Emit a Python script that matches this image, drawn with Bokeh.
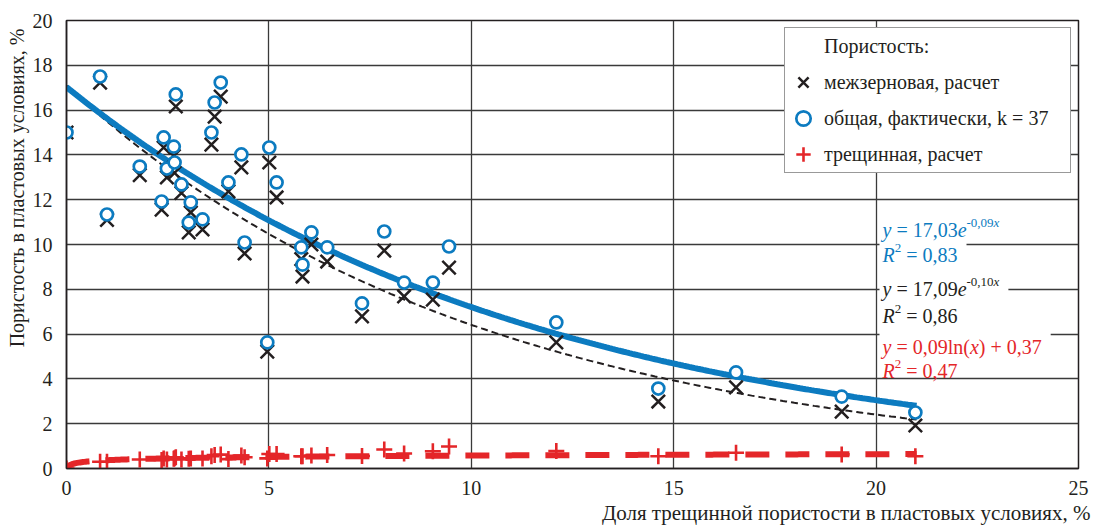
import numpy as np
from bokeh.plotting import figure
from bokeh.models import Range1d, Label, BoxAnnotation, Legend, LegendItem, Title
from bokeh.embed import file_html
from bokeh.resources import INLINE

# ---------------- data ----------------
x_share = [0.0, 0.83, 1.0, 1.81, 2.35, 2.40, 2.48, 2.65, 2.70, 2.67, 2.84, 3.07, 3.02, 3.36,
           3.58, 3.66, 3.81, 4.00, 4.32, 4.40, 4.96, 5.01, 5.19, 5.80, 5.83, 6.05, 6.44,
           7.30, 7.85, 8.34, 9.05, 9.45, 12.10, 14.62, 16.54, 19.15, 20.97]
total_por = [15.0, 17.5, 11.34, 13.48, 11.92, 14.78, 13.39, 14.37, 16.7, 13.66, 12.68, 11.88,
             10.98, 11.12, 15.0, 16.34, 17.23, 12.77, 14.02, 10.09, 5.63, 14.33, 12.77, 9.87,
             9.1, 10.54, 9.87, 7.37, 10.58, 8.3, 8.3, 9.91, 6.52, 3.57, 4.29, 3.21, 2.5]
inter_por = [15.0, 17.23, 11.1, 13.1, 11.56, 14.33, 13.0, 13.95, 16.16, 13.2, 12.3, 11.43,
             10.54, 10.67, 14.46, 15.71, 16.6, 12.37, 13.44, 9.6, 5.22, 13.66, 12.1, 9.35,
             8.57, 10.0, 9.24, 6.79, 9.73, 7.68, 7.54, 8.97, 5.63, 2.99, 3.62, 2.54, 1.92]
frac_por = [0.0, 0.3, 0.3, 0.4, 0.38, 0.45, 0.4, 0.43, 0.5, 0.46, 0.4, 0.45, 0.44, 0.45,
            0.55, 0.6, 0.62, 0.42, 0.58, 0.5, 0.45, 0.65, 0.65, 0.55, 0.55, 0.58, 0.6,
            0.56, 0.85, 0.67, 0.77, 0.98, 0.78, 0.55, 0.7, 0.63, 0.55]

x_ticks = [0, 5, 10, 15, 20, 25]
y_ticks = [0, 2, 4, 6, 8, 10, 12, 14, 16, 18, 20]

# trend coefficients (as shown on chart)
blue_a, blue_b = 17.03, -0.086
black_a, black_b = 17.09, -0.098
red_a, red_b = 0.09, 0.37
fit_x_max = 21.0

legend_title = "Пористость:"
lab_inter = "межзерновая, расчет"
lab_total = "общая, фактически, k = 37"
lab_frac = "трещинная, расчет"
x_title = "Доля трещинной пористости в пластовых условиях, %"
y_title = "Пористость в пластовых условиях, %"

# ---------------- style ----------------
FONT = "'Liberation Serif', serif"
TXT = "#231f20"
BLUE = "#0c7bc0"
RED = "#e42629"
BLACK = "#231f20"

W, H = 1096, 527
FL, FR, FT, FB = 66, 1078, 20, 468   # frame edges in page px
XS = (FR - FL) / 25.0
YS = (FB - FT) / 20.0

def px_x(px):
    return (px - FL) / XS

def px_y(py):
    return (FB - py) / YS

p = figure(width=W, height=H, output_backend="svg", toolbar_location=None,
           x_range=Range1d(0, 25), y_range=Range1d(0, 20),
           min_border_left=FL, min_border_right=W - FR, min_border_top=FT,
           min_border_bottom=H - FB)
p.background_fill_color = "white"
p.border_fill_color = "white"
p.outline_line_color = "#231f20"
p.outline_line_width = 1.5

for ax, ticks in ((p.xaxis, x_ticks), (p.yaxis, y_ticks)):
    ax.ticker = ticks
    ax.major_tick_in = 0
    ax.major_tick_out = 0
    ax.minor_tick_line_color = None
    ax.axis_line_color = "#231f20"
    ax.axis_line_width = 1.5
    ax.major_label_text_font = FONT
    ax.major_label_text_font_size = "20px"
    ax.major_label_text_color = TXT
p.xaxis.major_label_standoff = 12
p.yaxis.major_label_standoff = 14

p.xgrid.ticker = x_ticks
p.ygrid.ticker = y_ticks
p.grid.grid_line_color = "#3a3a3a"
p.grid.grid_line_width = 1.3

# ---------------- trend lines ----------------
xf = np.linspace(0, fit_x_max, 300)
xr = np.linspace(0.02, fit_x_max, 600)
r_black = p.line(xf, black_a * np.exp(black_b * xf), line_color=BLACK, line_width=2,
                 line_dash="7 4")
r_red = p.line(xr, red_a * np.log(xr) + red_b, line_color=RED, line_width=6,
               line_dash="24 16")
r_blue = p.line(xf, blue_a * np.exp(blue_b * xf), line_color=BLUE, line_width=6)

# ---------------- markers ----------------
r_x = p.scatter(x_share, inter_por, marker="x", size=19, line_color=BLACK, line_width=2.5)
r_c = p.scatter(x_share, frac_por, marker="cross", size=16, line_color=RED, line_width=2.6)
r_o = p.scatter(x_share, total_por, marker="circle", size=12, line_color=BLUE,
                line_width=2.7, fill_color="white")
r_dummy = p.scatter([], [], marker="circle", size=1, line_alpha=0, fill_alpha=0)

legend = Legend(items=[
    LegendItem(label=legend_title, renderers=[r_dummy]),
    LegendItem(label=lab_inter, renderers=[r_x]),
    LegendItem(label=lab_total, renderers=[r_o]),
    LegendItem(label=lab_frac, renderers=[r_c]),
], location="top_right")
legend.label_text_font = FONT
legend.label_text_font_size = "20px"
legend.label_text_color = TXT
legend.padding = 0
legend.spacing = -9
legend.margin = 7
legend.label_standoff = 3
legend.glyph_width = 36
legend.glyph_height = 36
legend.label_height = 20
legend.label_width = 246
legend.border_line_color = "#333333"
legend.border_line_width = 1.2
legend.background_fill_color = "white"
legend.background_fill_alpha = 1.0
p.add_layout(legend)

# ---------------- equations ----------------
REG = {' ': 250, ',': 250, '=': 564, '+': 564, '(': 333, ')': 333, 'l': 278, 'n': 500,
       '-': 333, '2': 500}
ITA = {'y': 444, 'e': 444, 'x': 444, 'R': 611}

def width(text, italic, size):
    tab = ITA if italic else REG
    return sum(tab.get(ch, 500) for ch in text) * size / 1000.0

MAIN, SUP, RAISE = 20, 13, 7
eq_rows = [
    (229, BLUE, [("y", 1, 0), (" = 17,03", 0, 0), ("e", 1, 0), ("-0,09", 0, 1), ("x", 1, 1)]),
    (254, BLUE, [("R", 1, 0), ("2", 0, 1), (" = 0,83", 0, 0)]),
    (288, BLACK, [("y", 1, 0), (" = 17,09", 0, 0), ("e", 1, 0), ("-0,10", 0, 1), ("x", 1, 1)]),
    (315, BLACK, [("R", 1, 0), ("2", 0, 1), (" = 0,86", 0, 0)]),
    (346, RED, [("y", 1, 0), (" = 0,09ln(", 0, 0), ("x", 1, 0), (") + 0,37", 0, 0)]),
    (370, RED, [("R", 1, 0), ("2", 0, 1), (" = 0,47", 0, 0)]),
]
X0 = 882
labels = []
for base, col, segs in eq_rows:
    cx = X0
    for text, it, sup in segs:
        size = SUP if sup else MAIN
        by = base - (RAISE if sup else 0)
        lead = len(text) - len(text.lstrip(" "))
        cx += width(" " * lead, it, size)
        body = text.lstrip(" ")
        labels.append(Label(x=px_x(cx), y=px_y(by), text=body, text_font=FONT,
                            text_font_size=f"{size}px", text_color=col,
                            text_font_style="italic" if it else "normal",
                            text_align="left", text_baseline="alphabetic"))
        cx += width(body, it, size)
    p.add_layout(BoxAnnotation(left=px_x(879), right=px_x(cx + 9), top=px_y(base - 17),
                               bottom=px_y(base + 6), fill_color="white", fill_alpha=1.0,
                               line_alpha=0, level="annotation"))
for lb in labels:
    p.add_layout(lb)

# ---------------- axis titles ----------------
p.add_layout(Title(text=x_title, align="right", offset=-12, standoff=2,
                   text_font=FONT, text_font_size="21px", text_color=TXT,
                   text_font_style="normal"), "below")
p.add_layout(Title(text=y_title, align="right", offset=8, standoff=4,
                   text_font=FONT, text_font_size="20px",
                   text_color=TXT, text_font_style="normal"), "left")

open("out.html", "w").write(file_html(p, INLINE))
